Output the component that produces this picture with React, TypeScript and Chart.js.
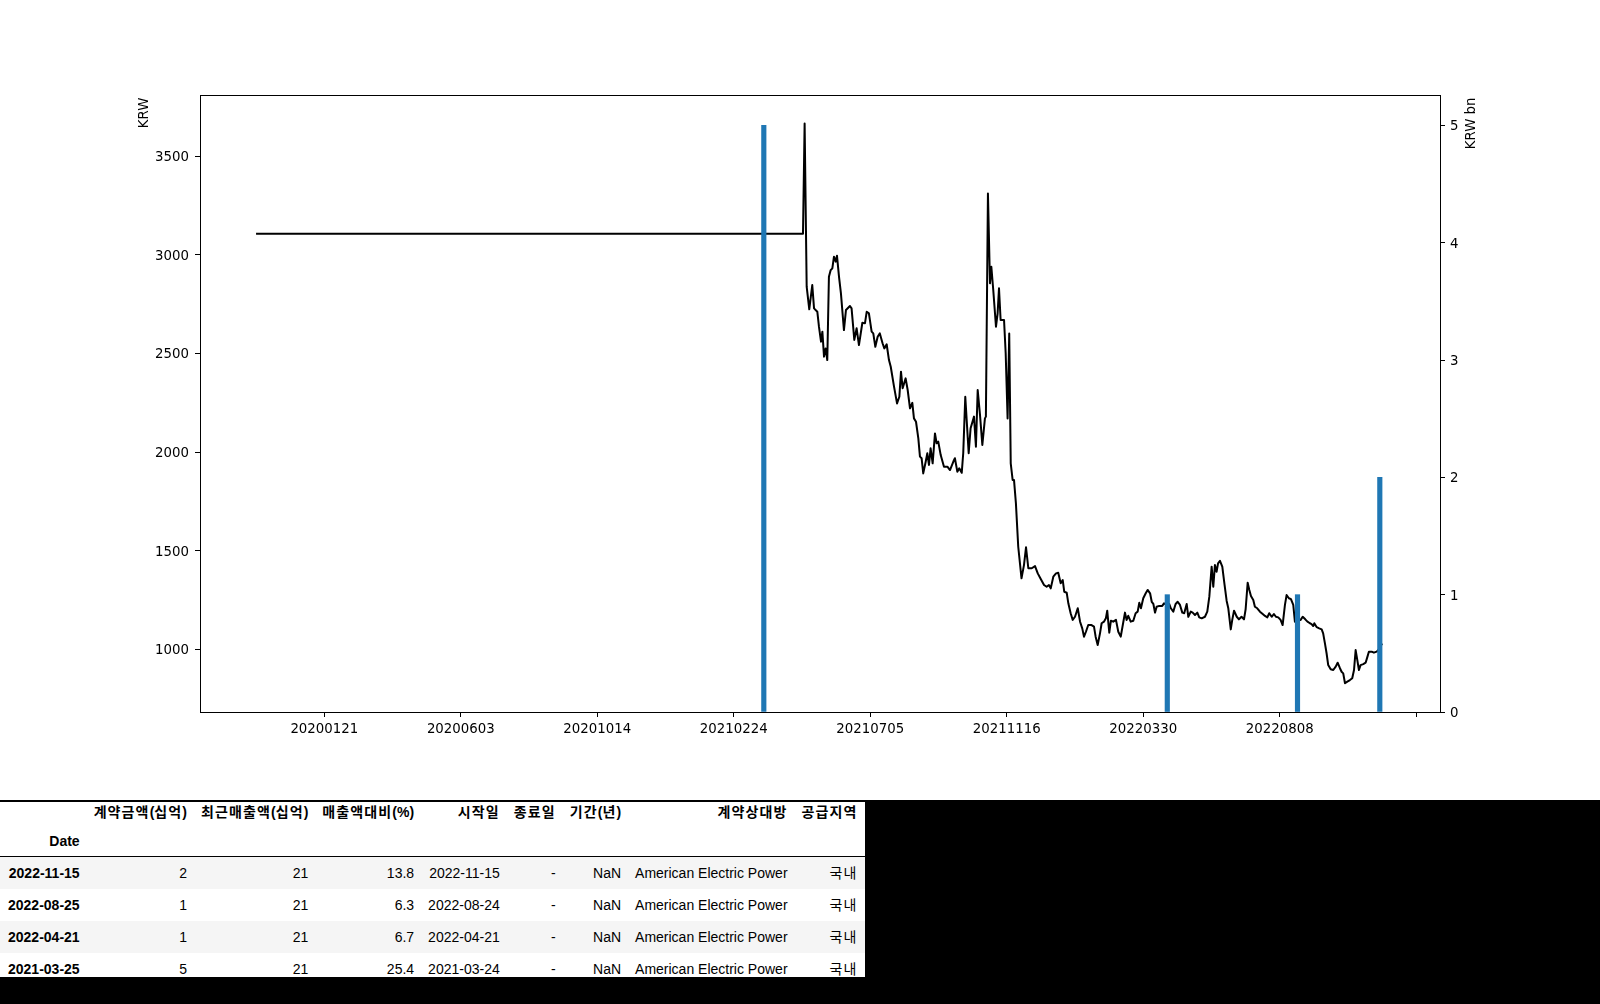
import React, { useEffect, useRef } from "react";
import { Chart, registerables } from "chart.js";

Chart.register(...registerables);

// ---- x axis (trading-day index) ----
const xTickIndex = [50, 150, 250, 350, 450, 550, 650, 750, 850];
const xTickLabels = ["20200121", "20200603", "20201014", "20210224", "20210705", "20211116", "20220330", "20220808", ""];

// ---- left axis ticks (KRW) ----
const priceTicks = [1000, 1500, 2000, 2500, 3000, 3500];
// ---- right axis ticks (KRW bn) ----
const amountTicks = [0, 1, 2, 3, 4, 5];

// ---- share price: [trading-day index, KRW] ----
const priceSeries: [number, number][] = [
  [0, 3108], [400.7, 3108], [401.9, 3667], [403.4, 2839], [405.3, 2724], [407.5, 2847], [408.8, 2729],
  [411.2, 2712], [412.4, 2636], [413.9, 2560], [414.9, 2611], [416.1, 2484], [417.3, 2526], [418.5, 2467],
  [419.7, 2889], [421, 2923], [422.2, 2932], [423.4, 2991], [424.7, 2966], [425.6, 2996], [427.1, 2889],
  [428.5, 2805], [430.7, 2619], [432.2, 2721], [435.1, 2741], [436.3, 2729], [438.3, 2569], [440, 2628],
  [441.7, 2543], [444.2, 2656], [446.1, 2653], [447.4, 2712], [449, 2704], [451, 2611], [452.2, 2602],
  [453.7, 2534], [455.4, 2585], [457, 2602], [459, 2552], [460.3, 2526], [462, 2547], [463.7, 2467],
  [465, 2433], [467.4, 2332], [469.6, 2247], [471.3, 2281], [472.5, 2408], [473.7, 2324], [475.9, 2374],
  [477.4, 2315], [479.1, 2222], [480.8, 2250], [482, 2171], [483.5, 2154], [485.2, 2070], [486.4, 1977],
  [487.6, 1969], [488.8, 1892], [490.6, 1951], [491.8, 1994], [493, 1935], [494.2, 2019], [495.7, 1943],
  [497.4, 2095], [498.6, 2045], [499.8, 2053], [501.6, 1985], [504, 1926], [506.5, 1926], [508.4, 1909],
  [510.8, 1951], [512, 1969], [513.8, 1900], [515.2, 1918], [517, 1895], [518.1, 1994], [519.6, 2281],
  [522.1, 1994], [523.5, 2121], [526, 2180], [527.4, 2027], [528.7, 2315], [530.4, 2188], [532.1, 2036],
  [534, 2171], [534.7, 2180], [536.2, 3312], [537.7, 2856], [538.7, 2940], [540.1, 2822], [542.1, 2636],
  [543.3, 2704], [544.3, 2831], [545.5, 2670], [548, 2670], [549.2, 2501], [550.6, 2171], [551.8, 2602],
  [552.9, 1943], [554.3, 1859], [555.3, 1859], [556.7, 1740], [558.4, 1520], [560.8, 1360], [562.6, 1427],
  [564.1, 1517], [565.8, 1411], [568.3, 1411], [570.7, 1422], [572.7, 1385], [574.6, 1360], [577.3, 1326],
  [579.2, 1317], [580.9, 1326], [582.2, 1309], [584.1, 1368], [586.1, 1385], [587.7, 1388], [589.5, 1335],
  [591, 1351], [592.1, 1292], [593.9, 1287], [595.1, 1233], [596.8, 1183], [598.3, 1149], [600, 1165],
  [602, 1208], [603.7, 1140], [605.3, 1106], [606.6, 1064], [608, 1089], [609.7, 1123], [612.1, 1123],
  [613.9, 1115], [615.1, 1064], [616.6, 1022], [618.3, 1081], [619.5, 1132], [621.2, 1140], [622.6, 1157],
  [623.6, 1196], [625.1, 1084], [626.3, 1145], [628, 1140], [630, 1149], [631.7, 1089], [633.5, 1064],
  [635, 1123], [636.6, 1186], [637.8, 1149], [639, 1170], [640.8, 1140], [642.7, 1145], [644.4, 1183],
  [645.9, 1191], [647.1, 1236], [648.3, 1208], [650, 1259], [651.8, 1284], [653.2, 1301], [655, 1284],
  [656.2, 1241], [657.4, 1230], [658.6, 1186], [659.8, 1216], [661.7, 1220], [663.9, 1220], [665.2, 1233],
  [667.1, 1225], [669, 1230], [670.2, 1208], [672, 1191], [673.7, 1230], [675.2, 1241], [676.9, 1225],
  [678.6, 1186], [680, 1183], [681.8, 1230], [683, 1165], [684.8, 1191], [686.2, 1186], [687.9, 1174],
  [689.6, 1186], [691, 1162], [692.8, 1157], [695.2, 1165], [696.9, 1191], [698.4, 1267], [700.1, 1419],
  [701.3, 1317], [702.5, 1427], [703.7, 1393], [704.8, 1436], [706.2, 1449], [707.9, 1419], [709.4, 1335],
  [711.1, 1245], [712.3, 1208], [714.1, 1101], [715.2, 1149], [716.5, 1196], [718.5, 1165], [720.1, 1152],
  [722, 1165], [723.8, 1152], [725, 1203], [726.5, 1338], [727.7, 1301], [728.9, 1270], [730.6, 1250],
  [731.8, 1216], [733.5, 1208], [735.5, 1191], [737.5, 1179], [739.2, 1169], [740.9, 1162], [742.3, 1183],
  [744.1, 1165], [745.7, 1179], [747.2, 1165], [748.9, 1162], [750.6, 1149], [752.1, 1123], [753.8, 1225],
  [755, 1275], [756.7, 1259], [758.2, 1254], [759.9, 1225], [761.1, 1140], [762.3, 1149], [765.3, 1149],
  [766.8, 1165], [768.7, 1152], [770.3, 1140], [772.1, 1132], [773.3, 1128], [774.5, 1118], [775.3, 1132],
  [777.1, 1112], [778.9, 1106], [780.7, 1101], [781.8, 1081], [783.1, 1030], [784.3, 980], [785.5, 920],
  [787.3, 899], [789.2, 895], [791, 912], [792.4, 932], [794.1, 904], [795.3, 886], [796.5, 878],
  [797.8, 828], [799.5, 836], [801.4, 844], [803.1, 853], [804.4, 895], [805.6, 996], [806.8, 946],
  [808, 895], [809.2, 920], [811.2, 925], [812.9, 932], [814.1, 959], [815.3, 988], [817.3, 988],
  [819, 983], [821, 988], [822.2, 996], [825, 1030],
];

// ---- contracts (table rows, also the bars) ----
const contractDates = ["2022-11-15", "2022-08-25", "2022-04-21", "2021-03-25"];
const contractIndex = [823.3, 763.0, 667.6, 372.0];
const contractAmount = [2, 1, 1, 5];
const recentSales = [21, 21, 21, 21];
const salesRatio = ["13.8", "6.3", "6.7", "25.4"];
const startDates = ["2022-11-15", "2022-08-24", "2022-04-21", "2021-03-24"];
const endDates = ["-", "-", "-", "-"];
const periods = ["NaN", "NaN", "NaN", "NaN"];
const counterparties = ["American Electric Power", "American Electric Power", "American Electric Power", "American Electric Power"];
const regions = ["국내", "국내", "국내", "국내"];
const tableColumns = ["계약금액(십억)", "최근매출액(십억)", "매출액대비(%)", "시작일", "종료일", "기간(년)", "계약상대방", "공급지역"];
const indexName = "Date";

const leftAxisTitle = "KRW";
const rightAxisTitle = "KRW bn";

const FONT = "DejaVu Sans";
const FS = 13.33;

const framePlugin = {
  id: "frameAndTitles",
  afterDatasetsDraw(chart: any) {
    const { ctx, chartArea: a } = chart;
    ctx.save();
    ctx.strokeStyle = "#000";
    ctx.lineWidth = 1;
    ctx.strokeRect(a.left + 0.5, a.top - 0.5, a.right - a.left, a.bottom - a.top + 1);
    ctx.restore();
  },
  afterDraw(chart: any) {
    const { ctx, chartArea: a } = chart;
    ctx.save();
    ctx.fillStyle = "#000";
    ctx.font = `${FS}px "${FONT}"`;
    ctx.textAlign = "right";
    ctx.textBaseline = "alphabetic";
    ctx.save();
    ctx.translate(a.left - 52, a.top + 1.5);
    ctx.rotate(-Math.PI / 2);
    ctx.fillText(leftAxisTitle, 0, 0);
    ctx.restore();
    ctx.save();
    ctx.translate(a.right + 35, a.top + 1.5);
    ctx.rotate(-Math.PI / 2);
    ctx.fillText(rightAxisTitle, 0, 0);
    ctx.restore();
    ctx.restore();
  },
};

const tickFont = { family: FONT, size: FS };
const gridOpts = { display: true, drawOnChartArea: false, drawTicks: true, tickLength: 5, color: "#000", lineWidth: 1, offset: false };

// Hangul glyphs rendered full-width, as in the reference
function hangulRuns(text: string) {
  const parts = text.split(/([\uac00-\ud7a3]+)/);
  return parts.map((p, i) =>
    /[\uac00-\ud7a3]/.test(p) ? (
      <span key={i} style={{ letterSpacing: "1.12px" }}>
        {p}
      </span>
    ) : (
      <React.Fragment key={i}>{p}</React.Fragment>
    )
  );
}

export default function App() {
  const ref = useRef<HTMLCanvasElement>(null);

  useEffect(() => {
    const chart = new Chart(ref.current as HTMLCanvasElement, {
      type: "bar",
      data: {
        datasets: [
          {
            type: "bar",
            label: "amount",
            data: contractIndex.map((x, i) => ({ x, y: contractAmount[i] })),
            backgroundColor: "#1f77b4",
            borderWidth: 0,
            barThickness: 4.5,
            xAxisID: "x",
            yAxisID: "y2",
            order: 0,
          } as any,
          {
            type: "line",
            label: "price",
            data: priceSeries.map(([x, y]) => ({ x, y })),
            borderColor: "#000",
            borderWidth: 2,
            pointRadius: 0,
            tension: 0,
            fill: false,
            borderJoinStyle: "round",
            xAxisID: "x",
            yAxisID: "y",
            order: 1,
          } as any,
        ],
      },
      options: {
        animation: false,
        responsive: false,
        devicePixelRatio: 1,
        layout: { padding: { top: 96, left: 0, right: 0, bottom: 0 } },
        plugins: { legend: { display: false }, tooltip: { enabled: false } },
        events: [],
        scales: {
          x: {
            type: "linear",
            position: "bottom",
            min: -41.07,
            max: 867.4,
            offset: false,
            grid: gridOpts,
            border: { display: false },
            afterBuildTicks: (s: any) => {
              s.ticks = xTickIndex.map((v) => ({ value: v }));
            },
            afterFit: (s: any) => {
              s.height = 88;
            },
            ticks: {
              autoSkip: false,
              maxRotation: 0,
              minRotation: 0,
              padding: 5,
              color: "#000",
              font: tickFont,
              callback: (v: any) => {
                const i = xTickIndex.indexOf(Number(v));
                return i >= 0 ? xTickLabels[i] : "";
              },
            },
          },
          y: {
            type: "linear",
            position: "left",
            min: 682,
            max: 3806,
            beginAtZero: false,
            grid: gridOpts,
            border: { display: false },
            afterBuildTicks: (s: any) => {
              s.ticks = priceTicks.map((v) => ({ value: v }));
            },
            afterFit: (s: any) => {
              s.width = 200;
            },
            ticks: { padding: 6, labelOffset: 1.5, color: "#000", font: tickFont, callback: (v: any) => String(v) },
          },
          y2: {
            type: "linear",
            position: "right",
            min: 0,
            max: 5.25,
            grid: gridOpts,
            border: { display: false },
            afterBuildTicks: (s: any) => {
              s.ticks = amountTicks.map((v) => ({ value: v }));
            },
            afterFit: (s: any) => {
              s.width = 160;
            },
            ticks: { padding: 5, labelOffset: 1.5, color: "#000", font: tickFont, callback: (v: any) => String(v) },
          },
        },
      } as any,
      plugins: [framePlugin],
    });
    return () => chart.destroy();
  }, []);

  const cell: React.CSSProperties = { padding: "0 7px", textAlign: "right", whiteSpace: "nowrap", border: "none" };
  const indexCell: React.CSSProperties = { ...cell, paddingLeft: 8 };
  const rows = contractDates.map((d, i) => [
    String(contractAmount[i]),
    String(recentSales[i]),
    salesRatio[i],
    startDates[i],
    endDates[i],
    periods[i],
    counterparties[i],
    regions[i],
  ]);

  return (
    <div style={{ position: "fixed", left: 0, top: 0, width: 1600, height: 1004, background: "#000", overflow: "hidden" }}>
      <div style={{ position: "absolute", left: 0, top: 0, width: 1600, height: 800, background: "#fff" }}>
        <canvas ref={ref} width={1600} height={800} style={{ display: "block", width: 1600, height: 800 }} />
      </div>
      <div style={{ position: "absolute", left: 0, top: 802, width: 1600, height: 175, overflow: "hidden" }}>
        <table
          style={{
            borderCollapse: "collapse",
            borderSpacing: 0,
            background: "#fff",
            color: "#000",
            fontFamily: '"Liberation Sans", Arial, "Noto Sans CJK KR", sans-serif',
            fontSize: 14,
          }}
        >
          <thead style={{ borderBottom: "1px solid #000" }}>
            <tr style={{ height: 20 }}>
              <th style={{ ...indexCell, lineHeight: "20px" }}></th>
              {tableColumns.map((c) => (
                <th key={c} style={{ ...cell, lineHeight: "20px", fontWeight: "bold" }}>
                  {hangulRuns(c)}
                </th>
              ))}
            </tr>
            <tr>
              <th style={{ ...indexCell, paddingTop: 5, lineHeight: "29px", fontWeight: "bold" }}>{indexName}</th>
              {tableColumns.map((c) => (
                <th key={c} style={{ ...cell, paddingTop: 5, lineHeight: "29px" }}></th>
              ))}
            </tr>
          </thead>
          <tbody>
            {rows.map((r, i) => (
              <tr key={i} style={{ background: i % 2 === 0 ? "#f5f5f5" : "#fff" }}>
                <th style={{ ...indexCell, lineHeight: "32px", fontWeight: "bold" }}>{contractDates[i]}</th>
                {r.map((v, j) => (
                  <td key={j} style={{ ...cell, lineHeight: "32px" }}>
                    {hangulRuns(v)}
                  </td>
                ))}
              </tr>
            ))}
          </tbody>
        </table>
      </div>
    </div>
  );
}
